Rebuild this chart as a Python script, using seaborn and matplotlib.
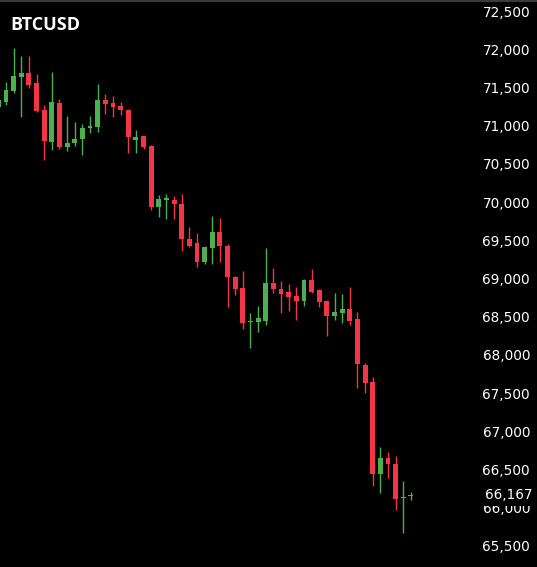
import matplotlib
matplotlib.use("Agg")
import matplotlib.pyplot as plt
import matplotlib.transforms as mtransforms
import seaborn as sns
import pandas as pd

# OHLC values (one row per candle, oldest first)
opens = [71250, 71313, 71453, 71640, 71693, 71554, 71205, 70790, 71300, 70725,
         70769, 70825, 70965, 70986, 71336, 71300, 71257, 71205, 70812, 70864,
         70734, 69940, 70027, 70027, 69975, 69517, 69469, 69212, 69395, 69613,
         69425, 69024, 68872, 68435, 68435, 68448, 68945, 68863, 68828, 68771,
         68705, 68980, 68850, 68710, 68510, 68545, 68601, 68470, 67868, 67650,
         66442, 66647, 66573, 66124, 66150]
highs = [71380, 71575, 72012, 71911, 71911, 71672, 71270, 71698, 71349, 71126,
         71052, 71021, 71126, 71541, 71410, 71388, 71313, 71214, 70943, 70864,
         70747, 70093, 70106, 70080, 70106, 69670, 69600, 69425, 69818, 69787,
         69450, 69033, 69098, 68545, 68640, 69395, 69133, 68971, 68928, 68893,
         68993, 69120, 68859, 68719, 68806, 68793, 68893, 68558, 67891, 67707,
         66799, 66734, 66678, 66350, 66211]
lows = [71220, 71270, 71423, 71113, 71489, 71183, 70550, 70681, 70690, 70673,
        70734, 70616, 70908, 70921, 71152, 71109, 71139, 70646, 70642, 70690,
        69896, 69809, 69774, 69774, 69360, 69408, 69155, 69190, 69190, 69220,
        68631, 68784, 68335, 68087, 68304, 68392, 68814, 68553, 68575, 68457,
        68640, 68814, 68623, 68248, 68457, 68414, 68392, 67563, 67498, 66285,
        66190, 66386, 65971, 65666, 66102]
closes = [71340, 71466, 71650, 71685, 71532, 71196, 70803, 71305, 70717, 70769,
          70825, 70973, 71000, 71336, 71279, 71248, 71205, 70855, 70855, 70725,
          69932, 70040, 70050, 69971, 69517, 69430, 69220, 69408, 69613, 69425,
          69016, 68862, 68414, 68448, 68479, 68945, 68859, 68797, 68762, 68705,
          68980, 68828, 68697, 68510, 68566, 68601, 68448, 67877, 67637, 66438,
          66647, 66569, 66115, 66145, 66167]

price_ticks = list(range(65500, 73000, 500))
tick_labels = [f"{v:,}" for v in price_ticks]
symbol = "BTCUSD"
last_price = closes[-1]

UP = "#4caf50"
DOWN = "#f23645"

df = pd.DataFrame({"open": opens, "high": highs, "low": lows, "close": closes})
df["idx"] = range(len(df))
df["color"] = [UP if c >= o else DOWN for o, c in zip(df["open"], df["close"])]
df["bottom"] = df[["open", "close"]].min(axis=1)
df["height"] = (df["close"] - df["open"]).abs().clip(lower=12)

sns.set_theme(style="dark", rc={"axes.facecolor": "black", "figure.facecolor": "black"})
plt.rcParams["font.family"] = ["DejaVu Sans"]

fig = plt.figure(figsize=(5.37, 5.67), dpi=100)
ax = fig.add_axes([0, 0, 1, 1])
ax.set_facecolor("black")

# wicks then bodies
ax.vlines(df["idx"], df["low"], df["high"], colors=df["color"], linewidth=1.0, zorder=2)
ax.bar(df["idx"], df["height"], bottom=df["bottom"], width=0.64,
       color=df["color"], edgecolor="none", zorder=3)

ax.set_xlim(0.215, 70.5)
ax.set_ylim(65225, 72644)

ax.set_xticks([])
ax.set_yticks(price_ticks)
ax.set_yticklabels(tick_labels)
ax.yaxis.tick_right()
ax.tick_params(axis="y", length=0, pad=-5, labelsize=9.8, labelcolor="white")
for lbl in ax.get_yticklabels():
    lbl.set_horizontalalignment("right")
ax.grid(False)

sns.despine(ax=ax, left=True, bottom=True, right=True, top=False)
ax.spines["top"].set_color("#3a3a3a")
ax.spines["top"].set_linewidth(3)

# last price label, covering the top of the 66,000 tick label
trans = mtransforms.blended_transform_factory(ax.transAxes, ax.transData)
ax.text(1 - 5 / 537, last_price, f"{last_price:,}", transform=trans, ha="right", va="center",
        fontsize=9.8, color="white", zorder=5,
        bbox=dict(facecolor="black", edgecolor="none", pad=2.6))

fig.text(10 / 537, 1 - 30 / 567, symbol, color="white", fontsize=13,
         fontweight="bold", family=["Open Sans", "DejaVu Sans"], va="baseline")

fig.savefig("out.png", dpi=100, facecolor="black")
